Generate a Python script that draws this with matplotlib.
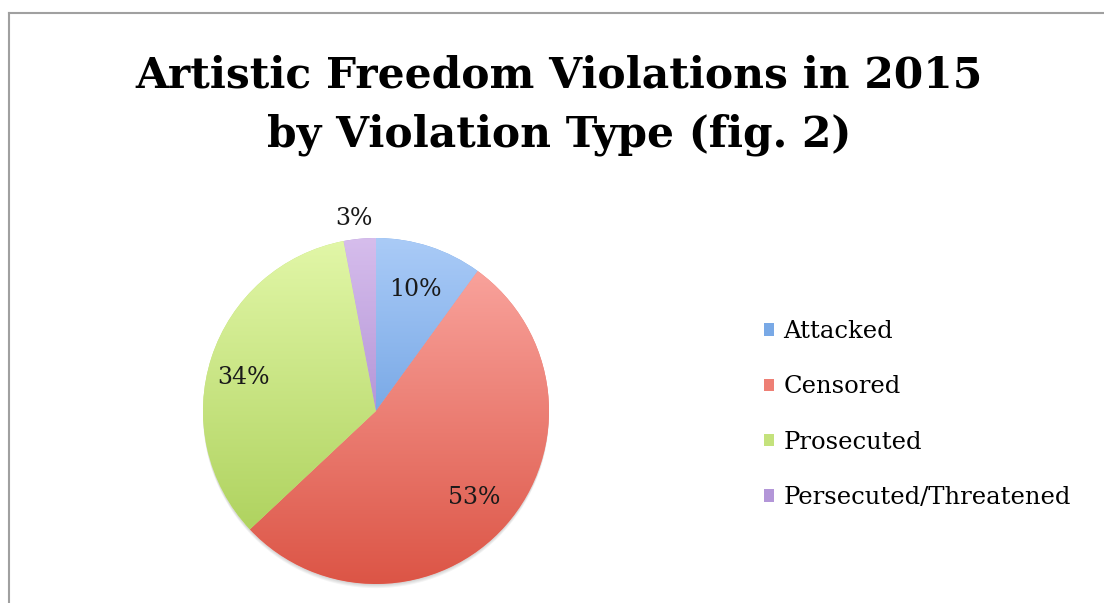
import numpy as np
import matplotlib
matplotlib.use("Agg")
import matplotlib.pyplot as plt
from matplotlib.colors import LinearSegmentedColormap
from matplotlib.patches import Rectangle, Circle
from matplotlib.lines import Line2D

# Data
labels = ["Attacked", "Censored", "Prosecuted", "Persecuted/Threatened"]
shares = [10, 53, 34, 3]
top_colors = ["#aacbf7", "#fcaaa4", "#e2f7a8", "#d6bdec"]
bottom_colors = ["#4a88d6", "#dc5546", "#a6cc52", "#9470c4"]
mid_colors = ["#79a9e6", "#ee7f75", "#c4e27c", "#b396d8"]

plt.rcParams["font.family"] = ["DejaVu Serif"]

fig = plt.figure(figsize=(11.04, 6.03), dpi=100)

# frame lines (top and left)
fig.add_artist(Line2D([9 / 1104, 1], [1 - 13 / 603, 1 - 13 / 603], color="#a0a0a0", lw=1.5))
fig.add_artist(Line2D([9 / 1104, 9 / 1104], [0, 1 - 13 / 603], color="#a0a0a0", lw=1.5))

fig.text(559 / 1104, 1 - 75 / 603, "Artistic Freedom Violations in 2015",
         ha="center", va="center", fontsize=30.5, fontweight="bold")
fig.text(559 / 1104, 1 - 135 / 603, "by Violation Type (fig. 2)",
         ha="center", va="center", fontsize=30.5, fontweight="bold")

# pie axes: center (376, 411) px, radius 173 px
cx, cy, r = 376, 411, 173 * 1.08
ax = fig.add_axes([(cx - r) / 1104, (603 - cy - r) / 603, 2 * r / 1104, 2 * r / 603])
ax.set_aspect("equal")
ax.axis("off")

# soft shadow below the pie
for k in range(1, 5):
    ax.add_patch(Circle((0, -0.006 * k), 1.0, color="k", alpha=0.045, lw=0, zorder=0))
ax.add_patch(Circle((0, 0), 1.0, color="white", lw=0, zorder=0.5))

wedges, _ = ax.pie(shares, startangle=90, counterclock=False, radius=1.0,
                   colors=mid_colors, wedgeprops=dict(lw=0))

grad = np.linspace(0, 1, 256).reshape(-1, 1)
for w, c0, c1 in zip(wedges, top_colors, bottom_colors):
    cmap = LinearSegmentedColormap.from_list("g", [c0, c1])
    im = ax.imshow(grad, cmap=cmap, extent=[-1, 1, -1, 1], origin="upper",
                   aspect="auto", zorder=2)
    im.set_clip_path(w)
ax.set_xlim(-1.08, 1.08)
ax.set_ylim(-1.08, 1.08)

# percentage labels
dists = [0.74, 0.76, 0.79, 1.12]
offsets = [0, 0, 4, 1]
for w, s, d, off in zip(wedges, shares, dists, offsets):
    ang = np.deg2rad((w.theta1 + w.theta2) / 2 + off)
    ax.text(d * np.cos(ang), d * np.sin(ang), f"{s}%", ha="center", va="center",
            fontsize=17, color="#1a1a1a", zorder=5)

# legend
handles = [Rectangle((0, 0), 1, 1, facecolor=m, edgecolor="none") for m in mid_colors]
fig.legend(handles, labels, loc="upper left", bbox_to_anchor=(752 / 1104, 1 - 308 / 603),
           frameon=False, fontsize=17.5, handlelength=0.42, handleheight=0.42,
           handletextpad=0.38, labelspacing=1.33, borderpad=0)

fig.savefig("out.png", dpi=100)
